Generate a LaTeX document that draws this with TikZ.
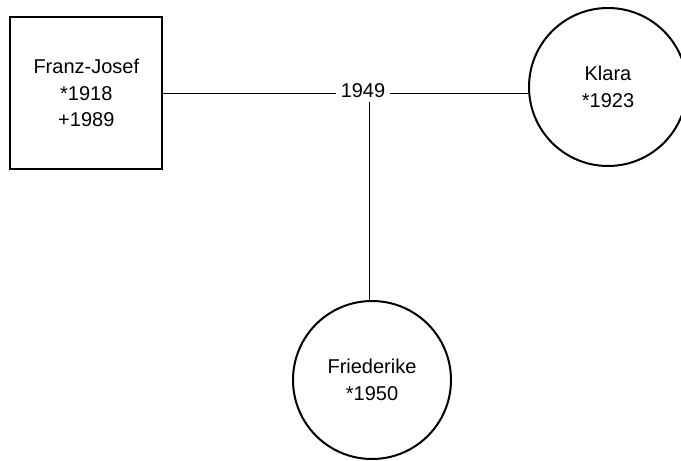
\documentclass[tikz,border=0pt]{standalone}
\usepackage{fontspec}
\setmainfont{Liberation Sans}
\begin{document}
\begin{tikzpicture}[x=1pt,y=-1pt,
  person/.style={draw=black, line width=2pt, align=center, inner sep=0pt,
    font=\fontsize{20}{26.5}\selectfont},
  male/.style={person, rectangle, minimum width=152pt, minimum height=152pt},
  female/.style={person, circle, minimum size=158pt},
  link/.style={draw=black, line width=0.9pt},
  year/.style={fill=white, inner sep=5pt, font=\fontsize{20}{24}\selectfont}
]
\useasboundingbox (0,0) rectangle (681,461);

% persons
\node[male]   (fj) at (86.3,93)  {Franz-Josef\\*1918\\+1989};
\node[female] (kl) at (608,87)   {Klara\\*1923};
\node[female] (fr) at (372,380)  {Friederike\\*1950};

% marriage line and descent line
\coordinate (j) at (369,93);
\draw[link] (fj.east) -- (kl.west |- fj.east);
\draw[link] (j) -- (j |- fr.north);
\node[year] (m) at (363,90.2) {1949};
\end{tikzpicture}
\end{document}
